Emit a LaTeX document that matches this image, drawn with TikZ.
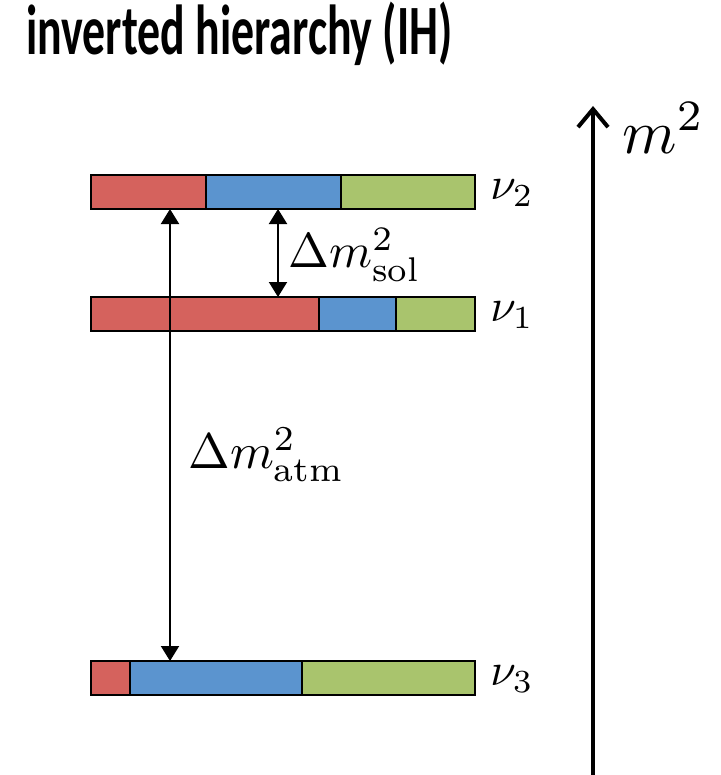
\documentclass[tikz,border=0pt]{standalone}
\usepackage{graphicx}
\usepackage{fontspec}
\newfontfamily\titlefont{Carlito}
\usetikzlibrary{arrows.meta,positioning}
\definecolor{flavE}{RGB}{213,98,93}
\definecolor{flavMu}{RGB}{91,148,207}
\definecolor{flavTau}{RGB}{169,196,109}
\newcommand{\bigmath}[2]{\scalebox{#1}{$#2$}}

\begin{document}
\begin{tikzpicture}[x=0.5pt,y=-0.5pt,>={Triangle[length=7.5pt,width=9pt]}]
  \useasboundingbox (0,0) rectangle (721,775);
  \node[anchor=base west,inner sep=0pt,font=\titlefont\bfseries\fontsize{29}{34}\selectfont]
      (title) at (26,55) {\scalebox{0.79}[1.22]{inverted hierarchy (IH)}};
  % mass states: name / top edge / e|mu split / mu|tau split / index
  \foreach \nm/\yt/\a/\b/\k in {two/175/206/341/2,one/297/319/396/1,three/661/130/302/3}{
    \fill[flavE]   (91,\yt) rectangle (\a,\yt+34);
    \fill[flavMu]  (\a,\yt) rectangle (\b,\yt+34);
    \fill[flavTau] (\b,\yt) rectangle (475,\yt+34);
    \draw[line width=0.8pt] (91,\yt) rectangle (475,\yt+34)
         (\a,\yt) -- (\a,\yt+34) (\b,\yt) -- (\b,\yt+34);
    \node[anchor=west,inner sep=0pt] (nu\nm) at (490,\yt+18) {\bigmath{2.3}{\nu_\k}};
  }
  % splittings
  \coordinate (sol top) at (278,209);
  \coordinate (sol bot) at (278,297);
  \coordinate (atm top) at (170,209);
  \coordinate (atm bot) at (170,661);
  \draw[<->,line width=1pt] (sol top) -- (sol bot);
  \draw[<->,line width=1pt] (atm top) -- (atm bot);
  \node[anchor=west,inner sep=0pt] (dsol) at (288,255) {\bigmath{2.45}{\Delta m^2_{\mathrm{sol}}}};
  \node[anchor=west,inner sep=0pt] (datm) at (188,455) {\bigmath{2.5}{\Delta m^2_{\mathrm{atm}}}};
  % mass axis
  \coordinate (axis bot) at (593,775);
  \coordinate (axis top) at (593,106);
  \draw[-{Straight Barb[length=9pt,width=15pt,line width=2pt]},line width=2pt]
      (axis bot) -- (axis top);
  \node[anchor=west,inner sep=0pt] (msq) at (622,128) {\bigmath{3.1}{m^2}};
\end{tikzpicture}
\end{document}
